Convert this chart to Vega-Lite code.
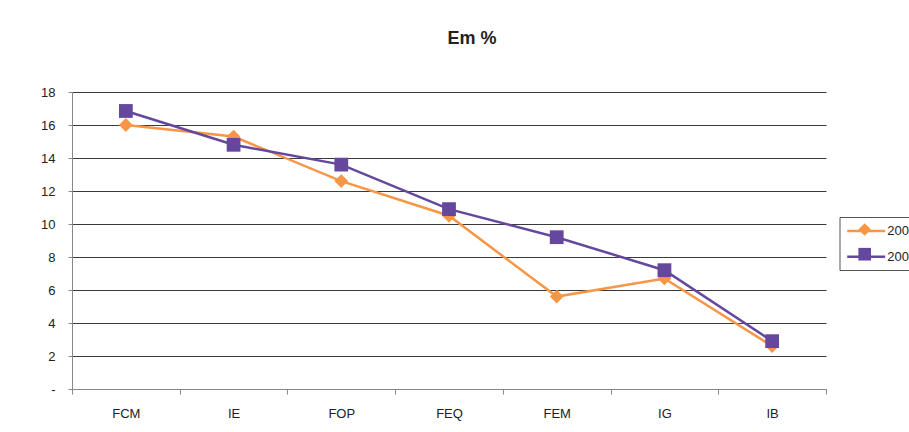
{
  "$schema": "https://vega.github.io/schema/vega-lite/v6.json",
  "width": 754,
  "height": 297,
  "autosize": {"type": "none"},
  "padding": {"left": 72, "top": 92, "right": 83, "bottom": 43},
  "background": "white",
  "config": {"font": "Liberation Sans", "view": {"stroke": null}},
  "title": {
    "text": "Em %",
    "fontSize": 18,
    "fontWeight": "bold",
    "font": "Liberation Sans",
    "color": "#222222",
    "anchor": "middle",
    "baseline": "alphabetic",
    "dx": 23,
    "offset": 24
  },
  "data": {
    "values": [
      {"cat": "FCM", "series": "2007", "value": 16.0},
      {"cat": "IE", "series": "2007", "value": 15.3},
      {"cat": "FOP", "series": "2007", "value": 12.6},
      {"cat": "FEQ", "series": "2007", "value": 10.5},
      {"cat": "FEM", "series": "2007", "value": 5.6},
      {"cat": "IG", "series": "2007", "value": 6.7},
      {"cat": "IB", "series": "2007", "value": 2.6},
      {"cat": "FCM", "series": "2008", "value": 16.85},
      {"cat": "IE", "series": "2008", "value": 14.8},
      {"cat": "FOP", "series": "2008", "value": 13.6},
      {"cat": "FEQ", "series": "2008", "value": 10.9},
      {"cat": "FEM", "series": "2008", "value": 9.2},
      {"cat": "IG", "series": "2008", "value": 7.2},
      {"cat": "IB", "series": "2008", "value": 2.9}
    ]
  },
  "encoding": {
    "x": {
      "field": "cat",
      "type": "nominal",
      "sort": ["FCM", "IE", "FOP", "FEQ", "FEM", "IG", "IB"],
      "scale": {"paddingInner": 0, "paddingOuter": 0},
      "axis": {
        "title": null,
        "labelAngle": 0,
        "tickBand": "extent",
        "tickSize": 5,
        "domainColor": "#888888",
        "tickColor": "#888888",
        "labelFontSize": 13,
        "labelColor": "#222222",
        "labelBaseline": "alphabetic",
        "labelPadding": 23,
        "grid": false
      }
    },
    "y": {
      "field": "value",
      "type": "quantitative",
      "scale": {"domain": [0, 18], "nice": false},
      "axis": {
        "title": null,
        "values": [0, 2, 4, 6, 8, 10, 12, 14, 16, 18],
        "labelExpr": "datum.value == 0 ? '-\u00a0\u00a0\u00a0\u00a0' : datum.label",
        "tickSize": 4,
        "labelPadding": 13,
        "domainColor": "#888888",
        "tickColor": "#888888",
        "gridColor": "#3a3a3a",
        "grid": true,
        "labelFontSize": 13,
        "labelColor": "#222222"
      }
    }
  },
  "layer": [
    {
      "mark": {"type": "line", "strokeWidth": 2.5},
      "encoding": {
        "stroke": {
          "field": "series",
          "type": "nominal",
          "scale": {"domain": ["2007", "2008"], "range": ["#F79646", "#65479E"]},
          "legend": {
            "orient": "none",
            "legendX": 767.5,
            "legendY": 125,
            "title": null,
            "symbolType": "M-3,0H3",
            "symbolSize": 160,
            "symbolOffset": 12.7,
            "symbolStrokeWidth": 2.5,
            "labelFontSize": 13,
            "labelColor": "#222222",
            "labelOffset": 13,
            "padding": 6,
            "rowPadding": 10.7,
            "strokeColor": "#555555"
          }
        }
      }
    },
    {
      "mark": {"type": "point", "filled": true, "opacity": 1, "size": 190, "strokeWidth": 0},
      "encoding": {
        "fill": {
          "field": "series",
          "type": "nominal",
          "scale": {"range": ["#F79646", "#65479E"]},
          "legend": {
            "orient": "none",
            "legendX": 767.5,
            "legendY": 125,
            "title": null,
            "symbolSize": 160,
            "symbolOffset": 12.7,
            "symbolStrokeWidth": 0,
            "labelFontSize": 13,
            "labelExpr": "'\u00a0'",
            "labelOffset": 13,
            "padding": 6,
            "rowPadding": 10.7
          }
        },
        "shape": {
          "field": "series",
          "type": "nominal",
          "scale": {"range": ["diamond", "square"]}
        }
      }
    }
  ]
}
